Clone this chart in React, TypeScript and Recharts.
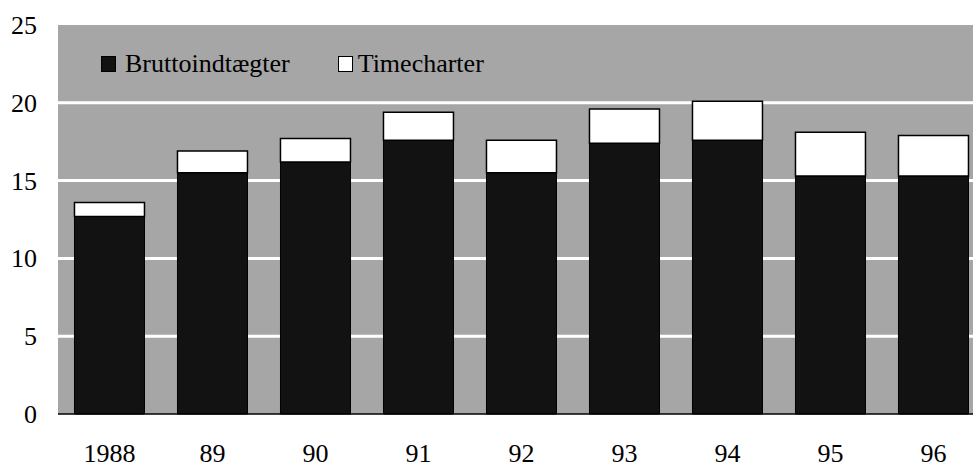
import React from 'react';
import { BarChart, Bar, XAxis, YAxis, CartesianGrid } from 'recharts';

// (stacked values)
const years = ['1988', '89', '90', '91', '92', '93', '94', '95', '96'];
const brutto = [12.7, 15.5, 16.2, 17.6, 15.5, 17.4, 17.6, 15.3, 15.3];
const timecharter = [0.9, 1.4, 1.5, 1.8, 2.1, 2.2, 2.5, 2.8, 2.6];
const yTicks = [0, 5, 10, 15, 20, 25];

const data = years.map((year, i) => ({
  year,
  brutto: brutto[i],
  timecharter: timecharter[i],
}));

const serif = '"Liberation Serif", "Times New Roman", serif';

const XTick = ({ x, y, payload }: any) => (
  <text x={x} y={y} dy={18} textAnchor="middle" fill="#000" style={{ fontFamily: serif, fontSize: 26 }}>
    {payload.value}
  </text>
);

const YTick = ({ x, y, payload }: any) => (
  <text x={x} y={y} dy={9} textAnchor="end" fill="#000" style={{ fontFamily: serif, fontSize: 26 }}>
    {payload.value}
  </text>
);

const LegendOverlay = () => (
  <div
    style={{
      position: 'absolute',
      left: 101,
      top: 49,
      display: 'flex',
      alignItems: 'center',
      fontFamily: serif,
      fontSize: 26,
      lineHeight: '30px',
      color: '#000',
      whiteSpace: 'nowrap',
    }}
  >
    <span style={{ width: 13, height: 14, background: '#111', border: '1px solid #000', marginRight: 9 }} />
    <span>Bruttoindtægter</span>
    <span style={{ width: 13, height: 14, background: '#fff', border: '1.5px solid #000', marginLeft: 48, marginRight: 5 }} />
    <span>Timecharter</span>
  </div>
);

const App: React.FC = () => {
  return (
    <div style={{ position: 'absolute', left: 0, top: 0, width: 973, height: 467, overflow: 'hidden', background: '#fff', fontFamily: serif }}>
      <BarChart
        width={985}
        height={467}
        data={data}
        margin={{ top: 25, right: 0, bottom: 0, left: 0 }}
        barCategoryGap="16%"
      >
        <CartesianGrid
          fill="#a6a6a6"
          stroke="#ffffff"
          strokeWidth={3}
          vertical={false}
          horizontalValues={[5, 10, 15, 20]}
        />
        <XAxis
          dataKey="year"
          height={53}
          tickLine={false}
          tickSize={0}
          tickMargin={30}
          axisLine={{ stroke: '#000', strokeWidth: 1.5 }}
          tick={<XTick />}
        />
        <YAxis
          width={58}
          domain={[0, 25]}
          ticks={yTicks}
          tickLine={false}
          tickSize={0}
          tickMargin={21}
          axisLine={false}
          tick={<YTick />}
        />
        <Bar dataKey="brutto" stackId="a" fill="#121212" stroke="#000" strokeWidth={1} isAnimationActive={false} />
        <Bar dataKey="timecharter" stackId="a" fill="#ffffff" stroke="#000" strokeWidth={1.5} isAnimationActive={false} />
      </BarChart>
      <LegendOverlay />
    </div>
  );
};

export default App;
